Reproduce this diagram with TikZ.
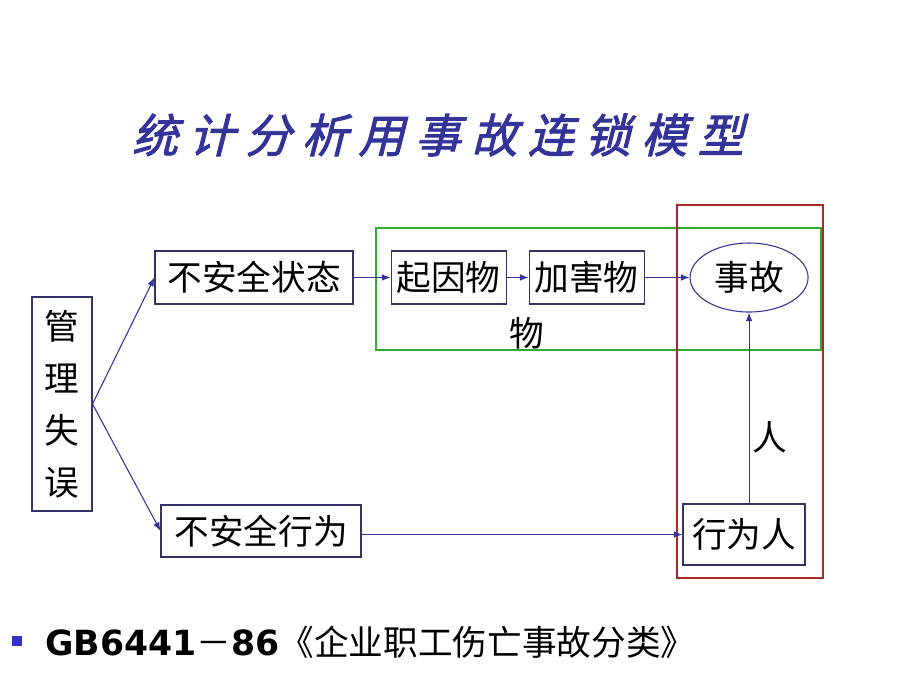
\documentclass[tikz,border=0pt]{standalone}
\usepackage{fontspec}
\usepackage{xcolor}
\usetikzlibrary{positioning, arrows.meta, shapes.geometric}
\newfontfamily\cjk{Noto Sans CJK SC}
\newfontfamily\titlefont{Noto Sans CJK SC}[FakeSlant=0.25,FakeBold=2,LetterSpace=23]
\newfontfamily\gbfont{DejaVu Sans}
\definecolor{titlecol}{RGB}{51,51,153}
\definecolor{boxcol}{RGB}{51,51,102}
\definecolor{linecol}{RGB}{51,51,153}
\definecolor{wugreen}{RGB}{51,170,51}
\definecolor{renred}{RGB}{170,40,40}
\definecolor{bulletcol}{RGB}{51,51,204}

\begin{document}
\begin{tikzpicture}[x=0.75pt, y=-0.75pt, on grid,
  font=\cjk\fontsize{26}{30}\selectfont,
  box/.style={draw=boxcol, line width=0.8pt, rectangle, inner sep=0pt},
  link/.style={->, draw=linecol, line width=0.8pt},
  >={Latex[length=6.5pt,width=5pt]}]

  \useasboundingbox (0,0) rectangle (920,690);

  \node[text=titlecol, font=\titlefont\fontsize{34.5}{40}\selectfont] (Title) at (438,135) {统计分析用事故连锁模型};

  \node[box, minimum width=45pt, minimum height=160.5pt, align=center,
        font=\cjk\fontsize{26}{39}\selectfont] (Guanli) at (62,404) {管\\理\\失\\误};

  \node[box, minimum width=148.5pt, minimum height=39.75pt] (Zhuangtai) at (254,277.5) {不安全状态};
  \node[box, minimum width=86.25pt, minimum height=39.75pt] (Qiyin) [right=145.9pt of Zhuangtai] {起因物};
  \node[box, minimum width=86.25pt, minimum height=39.75pt] (Jiahai) [right=103.5pt of Qiyin] {加害物};
  \node[draw=linecol, ellipse, line width=0.8pt, minimum width=88.5pt, minimum height=51.75pt, inner sep=0pt] (Shigu) [right=121.9pt of Jiahai] {事故};

  \node[box, minimum width=150pt, minimum height=39pt] (Xingwei) at (261,531) {不安全行为};
  \node[box, minimum width=91.5pt, minimum height=45.75pt] (Ren) at (744,534.5) {行为人};

  \node (Wu) at (527,333) {物};
  \node (RenLabel) at (770,437) {人};

  % frames
  \draw[wugreen, line width=0.8pt] (376,228) rectangle (821,350);
  \draw[renred, line width=0.8pt] (677,205) rectangle (823,578);

  \draw[link] (Guanli.east) -- (Zhuangtai.west);
  \draw[link] (Guanli.east) -- (Xingwei.west);
  \draw[link] (Zhuangtai) -- (Qiyin);
  \draw[link] (Qiyin) -- (Jiahai);
  \draw[link] (Jiahai) -- (Shigu);
  \draw[link] (Xingwei.east |- Ren.west) -- (Ren.west);
  \draw[link] (Shigu.south |- Ren.north) -- (Shigu.south);

  \node[fill=bulletcol, minimum size=7.5pt, inner sep=0pt] (Bullet) at (17,641) {};
  \node[anchor=base west, inner sep=0pt] (Biaozhun) at (45,655)
    {{\gbfont\bfseries GB6441}－{\gbfont\bfseries 86}《企业职工伤亡事故分类》};
\end{tikzpicture}
\end{document}
